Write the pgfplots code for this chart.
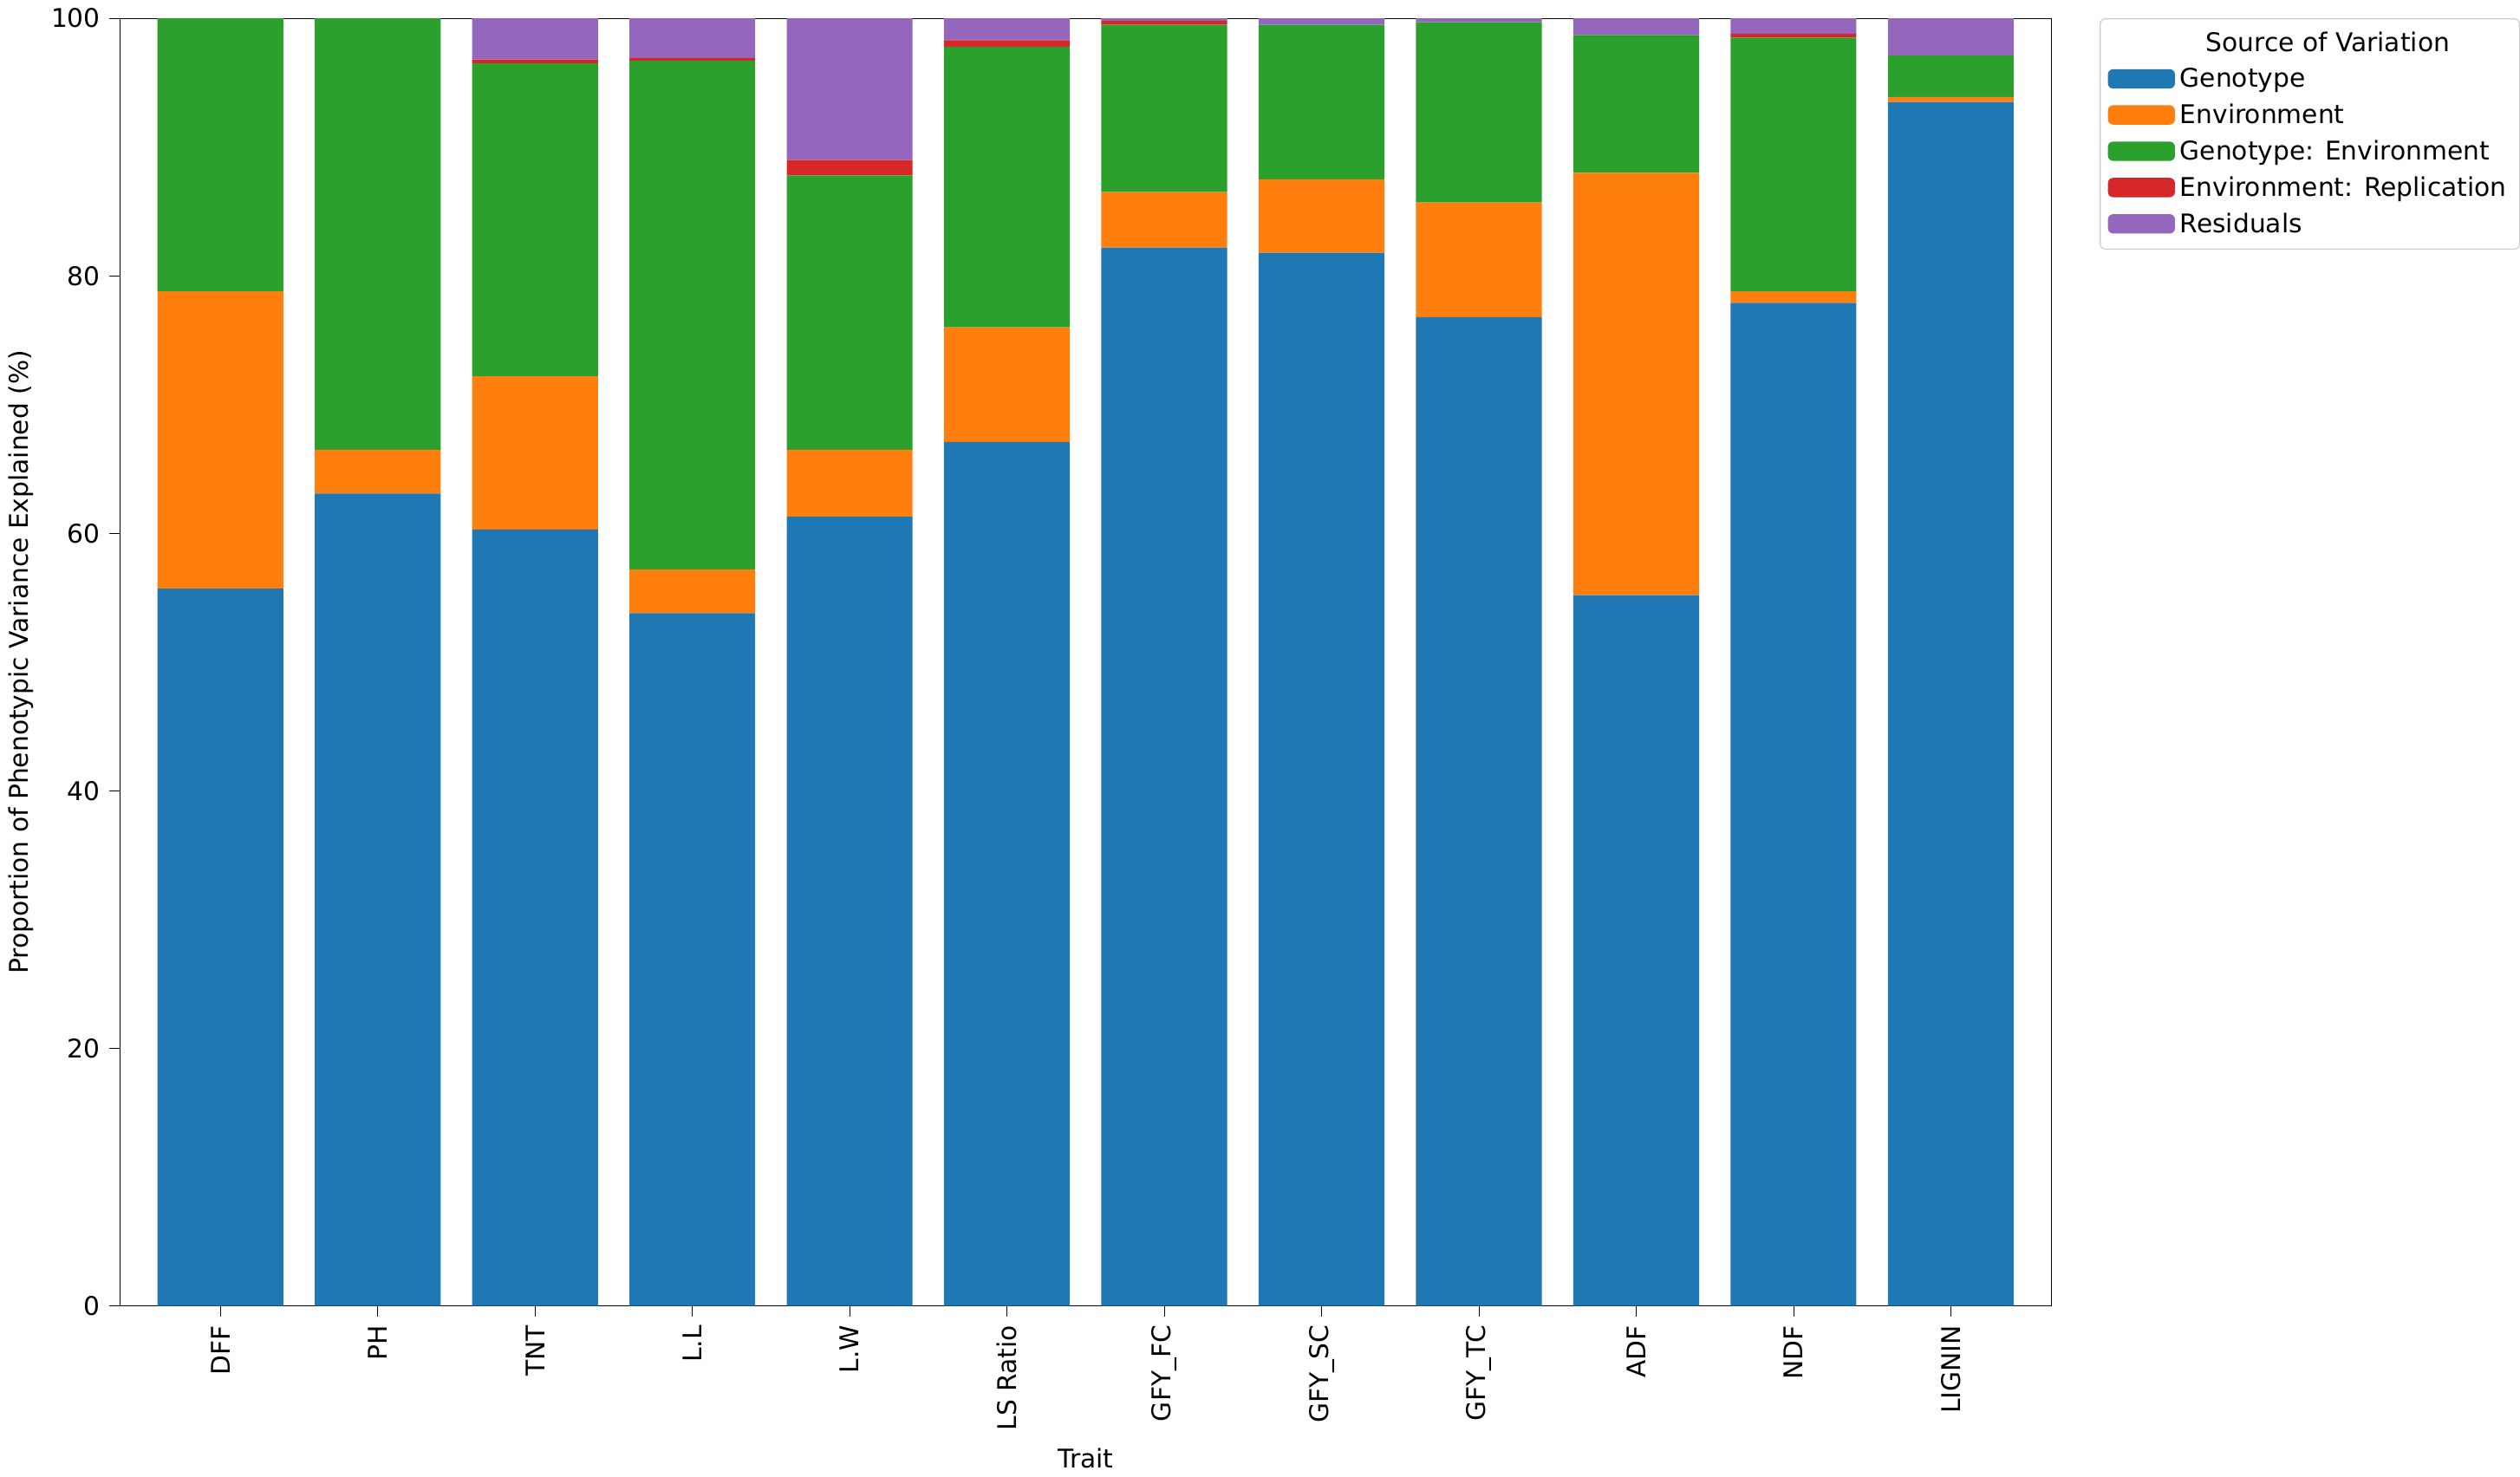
\documentclass[border=0pt]{standalone}
\usepackage{pgfplots}
\pgfplotsset{compat=1.18}
\usepackage{fontspec}
\setmainfont{DejaVu Sans}
\definecolor{c1}{HTML}{1F77B4}
\definecolor{c2}{HTML}{FF7F0E}
\definecolor{c3}{HTML}{2CA02C}
\definecolor{c4}{HTML}{D62728}
\definecolor{c5}{HTML}{9467BD}
\begin{document}
\begin{tikzpicture}
\begin{axis}[
  scale only axis, width=750pt, height=500pt,
  ybar stacked, bar width=0.8,
  xmin=-0.64, xmax=11.64, ymin=0, ymax=100,
  xtick={0,...,11},
  xticklabels={DFF,PH,TNT,L.L,L.W,LS Ratio,GFY\_FC,GFY\_SC,GFY\_TC,ADF,NDF,LIGNIN},
  xticklabel style={rotate=90, anchor=east},
  ytick={0,20,40,60,80,100},
  tick style={black}, major tick length=4pt,
  tick align=outside, xtick pos=bottom, ytick pos=left,
  /pgf/number format/assume math mode=true,
  xlabel={Trait}, ylabel={Proportion of Phenotypic Variance Explained (\%)},
  legend style={at={(1.025,1)}, anchor=north west, draw=gray!40, rounded corners=2pt, cells={anchor=west}, inner sep=3pt, row sep=1pt},
  legend cell align=left,
  legend image code/.code={\fill[#1] (0pt,-3.5pt) rectangle (26pt,4pt);},
  every axis plot/.append style={draw=none},
]
\addlegendimage{empty legend}\addlegendentry{\hspace{10pt}Source of Variation}
\addplot[fill=c1] coordinates {(0,55.7)(1,63.1)(2,60.3)(3,53.8)(4,61.3)(5,67.1)(6,82.2)(7,81.8)(8,76.8)(9,55.2)(10,77.9)(11,93.5)};
\addlegendentry{Genotype}
\addplot[fill=c2] coordinates {(0,23.1)(1,3.4)(2,11.9)(3,3.4)(4,5.2)(5,8.9)(6,4.3)(7,5.7)(8,8.9)(9,32.8)(10,0.9)(11,0.4)};
\addlegendentry{Environment}
\addplot[fill=c3] coordinates {(0,21.2)(1,33.5)(2,24.3)(3,39.5)(4,21.3)(5,21.8)(6,13.0)(7,12.0)(8,14.0)(9,10.7)(10,19.7)(11,3.2)};
\addlegendentry{Genotype: Environment}
\addplot[fill=c4] coordinates {(0,0)(1,0)(2,0.3)(3,0.2)(4,1.2)(5,0.5)(6,0.3)(7,0)(8,0)(9,0)(10,0.3)(11,0)};
\addlegendentry{Environment: Replication}
\addplot[fill=c5] coordinates {(0,0)(1,0)(2,3.2)(3,3.1)(4,11.0)(5,1.7)(6,0.2)(7,0.5)(8,0.3)(9,1.3)(10,1.2)(11,2.9)};
\addlegendentry{Residuals}
\end{axis}
\end{tikzpicture}
\end{document}
